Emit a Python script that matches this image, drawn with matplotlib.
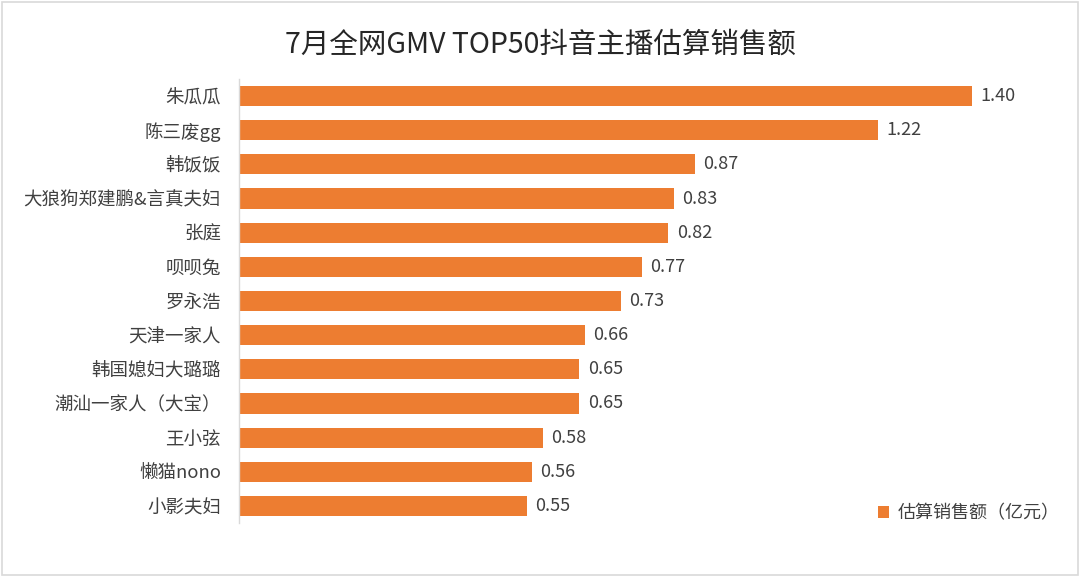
import matplotlib.pyplot as plt
from matplotlib.patches import Rectangle

plt.rcParams['font.family'] = ['Noto Sans CJK SC', 'DejaVu Sans']

# 主播名称与估算销售额（亿元）
names = ['朱瓜瓜', '陈三废gg', '韩饭饭', '大狼狗郑建鹏&言真夫妇', '张庭', '呗呗兔',
         '罗永浩', '天津一家人', '韩国媳妇大璐璐', '潮汕一家人（大宝）', '王小弦',
         '懒猫nono', '小影夫妇']
gmv = [1.40, 1.22, 0.87, 0.83, 0.82, 0.77, 0.73, 0.66, 0.65, 0.65, 0.58, 0.56, 0.55]

orange = '#ED7D31'
txt = '#404040'

fig = plt.figure(figsize=(10.8, 5.77), dpi=100)
W, H = 1080, 577
# 坐标轴位置（像素）
left, right, top, bottom = 239, 1040, 79, 523
ax = fig.add_axes([left / W, 1 - bottom / H, (right - left) / W, (bottom - top) / H])

y = list(range(len(names)))
bars = ax.barh(y, gmv, height=0.59, color=orange, label='估算销售额（亿元）')
ax.set_ylim(len(names) - 0.5, -0.5)
ax.set_xlim(0, (right - left) / 523.6)

for b, v in zip(bars, gmv):
    ax.annotate(f'{v:.2f}', (b.get_width(), b.get_y() + b.get_height() / 2),
                xytext=(6, 0), textcoords='offset points', va='center', ha='left',
                fontsize=13, color=txt)

ax.set_yticks(y)
ax.set_yticklabels(names, fontsize=13.3, color=txt)
ax.tick_params(axis='y', length=0, pad=13)
ax.set_xticks([])
for s in ['top', 'right', 'bottom']:
    ax.spines[s].set_visible(False)
ax.spines['left'].set_color('#d9d9d9')
ax.spines['left'].set_linewidth(1)

fig.text(0.5, 1 - 45 / H, '7月全网GMV TOP50抖音主播估算销售额', ha='center', va='center',
         fontsize=20.5, color='#262626')

ax.legend(loc='lower right', bbox_to_anchor=((1076 - left) / (right - left), -0.035),
          frameon=False, fontsize=13, handlelength=0.6, handleheight=0.6,
          handletextpad=0.5, labelcolor=txt)

# 外框
fig.patches.append(Rectangle((0.002, 0.003), 0.996, 0.994, transform=fig.transFigure,
                             fill=False, edgecolor='#d9d9d9', linewidth=1.2))

fig.savefig('out.png', dpi=100)
